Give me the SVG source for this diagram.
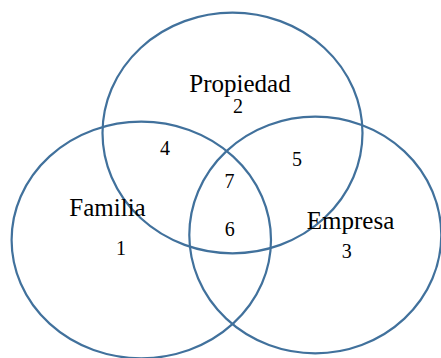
<svg xmlns="http://www.w3.org/2000/svg" width="441" height="358" viewBox="0 0 441 358">
<style>
.c{fill:none;stroke:#41719c;stroke-width:2.2}
.l{font-family:"Liberation Serif","Times New Roman",serif;font-size:25px;fill:#000;text-anchor:middle}
.n{font-family:"Liberation Serif","Times New Roman",serif;font-size:20px;fill:#000;text-anchor:middle}
</style>
<rect width="441" height="358" fill="#fff"/>
<g id="propiedad"><ellipse class="c" cx="232.5" cy="133" rx="130" ry="120.3"/></g>
<g id="familia"><ellipse class="c" cx="141.3" cy="240" rx="129.7" ry="118.3"/></g>
<g id="empresa"><ellipse class="c" cx="315.3" cy="235" rx="126" ry="118.3"/></g>
<g id="labels">
<text class="l" x="240" y="92">Propiedad</text>
<text class="l" x="107.5" y="216">Familia</text>
<text class="l" x="350.5" y="229">Empresa</text>
<text class="n" x="238" y="113.3">2</text>
<text class="n" x="165" y="155">4</text>
<text class="n" x="297" y="165.7">5</text>
<text class="n" x="229.5" y="187.7">7</text>
<text class="n" x="229.7" y="236">6</text>
<text class="n" x="121" y="255">1</text>
<text class="n" x="346.7" y="257.7">3</text>
</g>
<g id="connectors"/>
</svg>
